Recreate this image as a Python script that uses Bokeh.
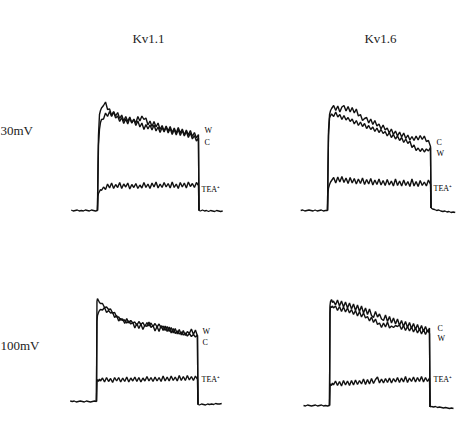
from bokeh.plotting import figure
from bokeh.models import Range1d, Label
from bokeh.layouts import gridplot
from bokeh.embed import file_html
from bokeh.resources import INLINE

# ---------------- data (time in ms, current in nA) -------------
COLUMN_TITLES = ["Kv1.1", "Kv1.6"]
ROW_LABELS = ["30mV", "100mV"]

PRE_T = [-26, -24, -22, -20, -18, -16, -14, -12, -10, -8, -6, -4, -2, 0]
PULSE_T = [0, 0.5, 1, 2, 3, 4,
           6, 8, 10, 12, 14, 16, 18, 20,
           22, 24, 26, 28, 30, 32, 34, 36,
           38, 40, 42, 44, 46, 48, 50, 52,
           54, 56, 58, 60, 62, 64, 66, 68,
           70, 72, 74, 76, 78, 80, 82, 84,
           86, 88, 90, 92, 94, 96, 98, 100,
           100.5]
POST_T = [100.5, 102, 104, 106, 108, 110, 112, 114, 116, 118, 120, 122, 124]

# Kv1.1, +30 mV
kv11_30_pre = [0.01, -0.01, 0.0, 0.01, -0.01, 0.0, -0.01, 0.01, 0.0, -0.01, 0.01, 0.0, -0.01, 0.0]
kv11_30_W = [0, 0.9, 1.5, 1.92, 2.0, 2.05,
             2.10, 2.17, 2.02, 2.03, 1.90, 1.98, 1.89, 1.96,
             1.84, 1.91, 1.79, 1.88, 1.78, 1.87, 1.75, 1.83,
             1.75, 1.88, 1.79, 1.89, 1.82, 1.85, 1.71, 1.79,
             1.68, 1.78, 1.67, 1.75, 1.62, 1.70, 1.59, 1.69,
             1.59, 1.68, 1.56, 1.65, 1.55, 1.66, 1.55, 1.63,
             1.51, 1.61, 1.51, 1.60, 1.48, 1.56, 1.45, 1.52,
             0.0]
kv11_30_C = [0, 0.6, 1.3, 1.62, 1.76, 1.82,
             1.83, 1.95, 1.88, 1.98, 1.88, 1.97, 1.85, 1.89,
             1.78, 1.86, 1.74, 1.83, 1.73, 1.85, 1.75, 1.82,
             1.70, 1.79, 1.67, 1.75, 1.62, 1.72, 1.63, 1.71,
             1.61, 1.71, 1.59, 1.67, 1.56, 1.66, 1.57, 1.67,
             1.55, 1.64, 1.52, 1.62, 1.51, 1.62, 1.50, 1.60,
             1.49, 1.58, 1.46, 1.55, 1.43, 1.50, 1.39, 1.45,
             0.0]
kv11_30_TEA = [0, 0.28, 0.34, 0.38, 0.42, 0.40,
               0.47, 0.42, 0.53, 0.45, 0.55, 0.44, 0.52, 0.46,
               0.56, 0.44, 0.53, 0.47, 0.55, 0.43, 0.52, 0.46,
               0.54, 0.44, 0.51, 0.45, 0.56, 0.46, 0.53, 0.44,
               0.55, 0.47, 0.57, 0.45, 0.53, 0.46, 0.56, 0.47,
               0.54, 0.45, 0.57, 0.46, 0.53, 0.44, 0.56, 0.47,
               0.55, 0.45, 0.57, 0.48, 0.54, 0.46, 0.56, 0.50,
               0.0]
kv11_30_post = [0.0, -0.01, 0.01, -0.01, 0.0, -0.02, 0.0, -0.01, -0.02, 0.0, -0.01, -0.02, -0.01]

# Kv1.6, +30 mV
kv16_30_pre = [0.0, 0.01, -0.01, 0.0, 0.01, 0.0, -0.01, 0.01, -0.01, 0.0, 0.01, -0.01, 0.0, 0.0]
kv16_30_C = [0, 0.9, 1.6, 1.92, 2.0, 2.04,
             2.10, 2.00, 2.09, 1.97, 2.07, 2.10, 1.99, 2.08,
             1.97, 2.06, 1.95, 2.03, 1.89, 1.92, 1.80, 1.84,
             1.86, 1.75, 1.83, 1.72, 1.80, 1.69, 1.73, 1.63,
             1.71, 1.61, 1.65, 1.55, 1.63, 1.52, 1.59, 1.49,
             1.57, 1.47, 1.55, 1.44, 1.51, 1.41, 1.48, 1.40,
             1.49, 1.41, 1.50, 1.42, 1.49, 1.38, 1.40, 1.28,
             0.05]
kv16_30_W = [0, 0.8, 1.5, 1.85, 1.9, 1.93,
             1.88, 1.97, 1.87, 1.92, 1.82, 1.90, 1.81, 1.86,
             1.78, 1.83, 1.73, 1.80, 1.70, 1.77, 1.68, 1.74,
             1.64, 1.70, 1.62, 1.67, 1.58, 1.65, 1.56, 1.62,
             1.54, 1.58, 1.49, 1.56, 1.46, 1.52, 1.43, 1.49,
             1.40, 1.46, 1.36, 1.43, 1.34, 1.39, 1.26, 1.31,
             1.20, 1.25, 1.18, 1.24, 1.17, 1.23, 1.19, 1.26,
             0.05]
kv16_30_TEA = [0, 0.35, 0.45, 0.52, 0.57, 0.60,
               0.66, 0.55, 0.67, 0.57, 0.68, 0.56, 0.65, 0.54,
               0.66, 0.55, 0.64, 0.53, 0.63, 0.54, 0.65, 0.52,
               0.62, 0.53, 0.64, 0.51, 0.61, 0.52, 0.63, 0.51,
               0.60, 0.50, 0.62, 0.51, 0.59, 0.49, 0.63, 0.50,
               0.59, 0.49, 0.61, 0.50, 0.58, 0.48, 0.63, 0.49,
               0.58, 0.48, 0.60, 0.50, 0.57, 0.49, 0.61, 0.52,
               0.05]
kv16_30_post = [0.05, 0.03, 0.02, 0.0, 0.01, -0.01, -0.02, -0.01, -0.03, -0.02, -0.04, -0.03, -0.04]

# Kv1.1, +100 mV
kv11_100_pre = [0.01, 0.0, 0.01, -0.01, 0.0, 0.01, 0.0, -0.01, 0.01, 0.0, -0.01, 0.0, 0.01, 0.0]
kv11_100_W = [0, 2.0, 2.06, 2.02, 1.98, 1.96,
              1.96, 1.88, 1.89, 1.84, 1.85, 1.77, 1.78, 1.69,
              1.69, 1.63, 1.65, 1.56, 1.66, 1.57, 1.62, 1.57,
              1.59, 1.52, 1.60, 1.54, 1.58, 1.50, 1.58, 1.51,
              1.57, 1.50, 1.56, 1.49, 1.55, 1.47, 1.51, 1.42,
              1.50, 1.40, 1.48, 1.37, 1.46, 1.35, 1.44, 1.33,
              1.42, 1.32, 1.40, 1.36, 1.45, 1.34, 1.43, 1.31,
              -0.06]
kv11_100_C = [0, 1.6, 1.72, 1.78, 1.82, 1.84,
              1.83, 1.88, 1.78, 1.82, 1.77, 1.78, 1.68, 1.72,
              1.61, 1.66, 1.62, 1.63, 1.57, 1.61, 1.55, 1.58,
              1.47, 1.56, 1.46, 1.55, 1.44, 1.53, 1.50, 1.59,
              1.48, 1.52, 1.41, 1.50, 1.40, 1.52, 1.42, 1.51,
              1.40, 1.49, 1.37, 1.46, 1.36, 1.41, 1.35, 1.39,
              1.33, 1.37, 1.31, 1.36, 1.30, 1.34, 1.29, 1.33,
              -0.06]
kv11_100_TEA = [0, 0.40, 0.44, 0.40, 0.45, 0.41,
                0.47, 0.39, 0.48, 0.40, 0.46, 0.38, 0.48, 0.41,
                0.48, 0.39, 0.47, 0.40, 0.49, 0.39, 0.47, 0.41,
                0.49, 0.40, 0.48, 0.39, 0.47, 0.41, 0.50, 0.41,
                0.48, 0.40, 0.49, 0.41, 0.48, 0.40, 0.51, 0.41,
                0.49, 0.41, 0.51, 0.42, 0.49, 0.41, 0.52, 0.42,
                0.50, 0.42, 0.52, 0.43, 0.50, 0.42, 0.51, 0.44,
                -0.06]
kv11_100_post = [-0.06, -0.07, -0.05, -0.06, -0.07, -0.05, -0.06, -0.05, -0.06, -0.04, -0.05, -0.05, -0.04]

# Kv1.6, +100 mV
kv16_100_pre = [0.0, -0.01, 0.01, 0.0, -0.01, 0.0, 0.01, -0.01, 0.0, 0.01, -0.01, 0.0, -0.01, 0.0]
kv16_100_C = [0, 2.0, 2.08, 2.12, 2.06, 2.09,
              2.01, 2.11, 1.99, 2.09, 1.97, 2.07, 1.95, 2.05,
              1.93, 2.03, 1.90, 2.01, 1.88, 1.99, 1.85, 1.95,
              1.82, 1.93, 1.80, 1.76, 1.88, 1.77, 1.83, 1.73,
              1.70, 1.81, 1.68, 1.78, 1.65, 1.75, 1.63, 1.73,
              1.60, 1.70, 1.58, 1.68, 1.56, 1.66, 1.54, 1.64,
              1.52, 1.62, 1.50, 1.60, 1.48, 1.58, 1.47, 1.55,
              -0.03]
kv16_100_W = [0, 1.85, 1.98, 1.96, 1.99, 1.95,
              1.99, 1.90, 1.98, 1.88, 1.97, 1.87, 1.95, 1.85,
              1.92, 1.82, 1.90, 1.79, 1.88, 1.77, 1.85, 1.75,
              1.78, 1.69, 1.77, 1.66, 1.73, 1.62, 1.65, 1.56,
              1.65, 1.57, 1.67, 1.55, 1.59, 1.56, 1.60, 1.58,
              1.61, 1.52, 1.60, 1.50, 1.58, 1.49, 1.57, 1.47,
              1.55, 1.45, 1.53, 1.43, 1.52, 1.42, 1.51, 1.44,
              -0.03]
kv16_100_TEA = [0, 0.38, 0.43, 0.40, 0.45, 0.41,
                0.49, 0.40, 0.48, 0.39, 0.50, 0.41, 0.49, 0.40,
                0.50, 0.41, 0.51, 0.42, 0.50, 0.43, 0.53, 0.42,
                0.52, 0.43, 0.54, 0.44, 0.52, 0.57, 0.45, 0.53,
                0.45, 0.54, 0.46, 0.55, 0.45, 0.54, 0.47, 0.56,
                0.46, 0.55, 0.47, 0.58, 0.46, 0.55, 0.48, 0.57,
                0.47, 0.56, 0.48, 0.58, 0.47, 0.56, 0.48, 0.55,
                -0.03]
kv16_100_post = [-0.03, -0.02, -0.03, -0.02, -0.04, -0.03, -0.04, -0.05, -0.04, -0.05, -0.06, -0.05, -0.06]

# ---------------- panels -------------
FONT = "Liberation Serif"
INK = "#111111"

panels = [
    dict(pre=kv11_30_pre, post=kv11_30_post,
         traces=[("W", kv11_30_W), ("C", kv11_30_C), ("TEA⁺", kv11_30_TEA)],
         xr=(-96.0, 133.7), yr=(-0.16, 4.20),
         labels=[("W", 105.9, 1.60), ("C", 105.9, 1.37), ("TEA⁺", 103.0, 0.42)],
         title=(COLUMN_TITLES[0], 50.5, 3.44), row=(ROW_LABELS[0], 1.60)),
    dict(pre=kv16_30_pre, post=kv16_30_post,
         traces=[("C", kv16_30_C), ("W", kv16_30_W), ("TEA⁺", kv16_30_TEA)],
         xr=(-92.2, 133.0), yr=(-0.16, 4.20),
         labels=[("C", 105.8, 1.36), ("W", 105.8, 1.15), ("TEA⁺", 102.9, 0.44)],
         title=(COLUMN_TITLES[1], 51.5, 3.44), row=None),
    dict(pre=kv11_100_pre, post=kv11_100_post,
         traces=[("W", kv11_100_W), ("C", kv11_100_C), ("TEA⁺", kv11_100_TEA)],
         xr=(-95.0, 134.7), yr=(-0.70, 3.66),
         labels=[("W", 105.0, 1.40), ("C", 105.0, 1.19), ("TEA⁺", 104.0, 0.45)],
         title=None, row=(ROW_LABELS[1], 1.12)),
    dict(pre=kv16_100_pre, post=kv16_100_post,
         traces=[("C", kv16_100_C), ("W", kv16_100_W), ("TEA⁺", kv16_100_TEA)],
         xr=(-97.0, 135.0), yr=(-0.62, 3.74),
         labels=[("C", 108.0, 1.54), ("W", 108.0, 1.34), ("TEA⁺", 104.0, 0.53)],
         title=None, row=None),
]

figs = []
for pn in panels:
    assert len(pn["pre"]) == len(PRE_T), "pre length"
    assert len(pn["post"]) == len(POST_T), "post length"
    p = figure(width=232, height=218, output_backend="svg", toolbar_location=None,
               x_range=Range1d(*pn["xr"]), y_range=Range1d(*pn["yr"]),
               x_axis_location=None, y_axis_location=None,
               min_border=0, outline_line_color=None,
               background_fill_color="white", border_fill_color="white")
    p.grid.visible = False
    p.line(PRE_T, pn["pre"], line_color=INK, line_width=1.3)
    p.line(POST_T, pn["post"], line_color=INK, line_width=1.3)
    for name, vals in pn["traces"]:
        assert len(vals) == len(PULSE_T), f"pulse length {name} {len(vals)}"
        p.line(PULSE_T, vals, line_color=INK, line_width=1.4)
    for txt, x, y in pn["labels"]:
        p.add_layout(Label(x=x, y=y, text=txt, text_font=FONT, text_font_size="8px",
                           text_color="black", text_align="left", text_baseline="middle"))
    if pn["title"]:
        txt, x, y = pn["title"]
        p.add_layout(Label(x=x, y=y, text=txt, text_font=FONT, text_font_size="13px",
                           text_color="#222222", text_align="center", text_baseline="middle"))
    if pn["row"]:
        txt, y = pn["row"]
        p.add_layout(Label(x=0, y=y, x_units="screen", text=txt, text_font=FONT,
                           text_font_size="13px", text_color="#222222",
                           text_align="left", text_baseline="middle"))
    figs.append(p)

grid = gridplot([[figs[0], figs[1]], [figs[2], figs[3]]], toolbar_location=None)

open("out.html", "w").write(file_html(grid, INLINE))
